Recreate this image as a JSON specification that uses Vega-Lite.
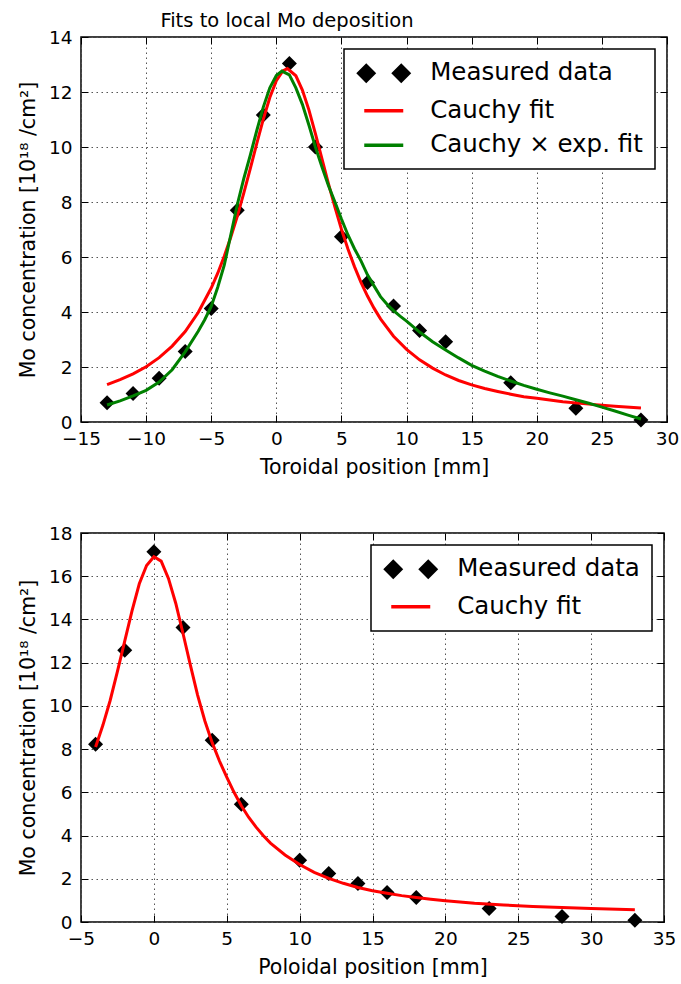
{
  "$schema": "https://vega.github.io/schema/vega-lite/v6.json",
  "background": "white",
  "padding": {"left": 17, "top": 9, "right": 5, "bottom": 5},
  "config": {
    "font": "DejaVu Sans",
    "view": {"stroke": "black", "strokeWidth": 1.5},
    "axis": {
      "labelFont": "DejaVu Sans", "labelFontSize": 18.5, "labelColor": "black",
      "titleFont": "DejaVu Sans", "titleFontSize": 20.5, "titleFontWeight": "normal", "titleColor": "black",
      "domain": false, "tickColor": "black", "tickSize": -7, "tickWidth": 1,
      "gridColor": "#555555", "gridDash": [1.5, 3.5], "gridWidth": 1,
      "labelFlush": false, "labelOverlap": false, "labelBound": false
    },
    "axisX": {"labelPadding": 14, "titlePadding": 10},
    "axisY": {"labelPadding": 16, "titlePadding": 10},
    "legend": {
      "title": null, "orient": "top-right", "offset": 12, "padding": 12,
      "symbolSize": 400, "labelOffset": 49.7, "rowPadding": 9.5,
      "labelFont": "DejaVu Sans", "labelFontSize": 24.5, "labelColor": "black", "labelLimit": 400,
      "strokeColor": "black", "fillColor": "white", "cornerRadius": 0
    }
  },
  "datasets": {
    "top_points": [
      {"series": "Measured data", "x": -13, "y": 0.70},
      {"series": "Measured data", "x": -11, "y": 1.04},
      {"series": "Measured data", "x": -9, "y": 1.59},
      {"series": "Measured data", "x": -7, "y": 2.56},
      {"series": "Measured data", "x": -5, "y": 4.13},
      {"series": "Measured data", "x": -3, "y": 7.70},
      {"series": "Measured data", "x": -1, "y": 11.16},
      {"series": "Measured data", "x": 1, "y": 13.04},
      {"series": "Measured data", "x": 3, "y": 10.0},
      {"series": "Measured data", "x": 5, "y": 6.74},
      {"series": "Measured data", "x": 7, "y": 5.07},
      {"series": "Measured data", "x": 9, "y": 4.22},
      {"series": "Measured data", "x": 11, "y": 3.33},
      {"series": "Measured data", "x": 13, "y": 2.92},
      {"series": "Measured data", "x": 18, "y": 1.43},
      {"series": "Measured data", "x": 23, "y": 0.50},
      {"series": "Measured data", "x": 28, "y": 0.07}
    ],
    "top_fits": [
      {"series": "Cauchy fit", "x": -13, "y": 1.36},
      {"series": "Cauchy fit", "x": -12, "y": 1.54},
      {"series": "Cauchy fit", "x": -11, "y": 1.75},
      {"series": "Cauchy fit", "x": -10, "y": 2.01},
      {"series": "Cauchy fit", "x": -9, "y": 2.34},
      {"series": "Cauchy fit", "x": -8, "y": 2.76},
      {"series": "Cauchy fit", "x": -7, "y": 3.29},
      {"series": "Cauchy fit", "x": -6, "y": 3.98},
      {"series": "Cauchy fit", "x": -5, "y": 4.87},
      {"series": "Cauchy fit", "x": -4.5, "y": 5.41},
      {"series": "Cauchy fit", "x": -4, "y": 6.03},
      {"series": "Cauchy fit", "x": -3.5, "y": 6.72},
      {"series": "Cauchy fit", "x": -3, "y": 7.48},
      {"series": "Cauchy fit", "x": -2.5, "y": 8.32},
      {"series": "Cauchy fit", "x": -2, "y": 9.21},
      {"series": "Cauchy fit", "x": -1.5, "y": 10.13},
      {"series": "Cauchy fit", "x": -1, "y": 11.01},
      {"series": "Cauchy fit", "x": -0.5, "y": 11.8},
      {"series": "Cauchy fit", "x": 0, "y": 12.41},
      {"series": "Cauchy fit", "x": 0.5, "y": 12.77},
      {"series": "Cauchy fit", "x": 0.85, "y": 12.85},
      {"series": "Cauchy fit", "x": 1.5, "y": 12.59},
      {"series": "Cauchy fit", "x": 2, "y": 12.07},
      {"series": "Cauchy fit", "x": 2.5, "y": 11.35},
      {"series": "Cauchy fit", "x": 3, "y": 10.49},
      {"series": "Cauchy fit", "x": 3.5, "y": 9.58},
      {"series": "Cauchy fit", "x": 4, "y": 8.67},
      {"series": "Cauchy fit", "x": 4.5, "y": 7.81},
      {"series": "Cauchy fit", "x": 5, "y": 7.01},
      {"series": "Cauchy fit", "x": 5.5, "y": 6.29},
      {"series": "Cauchy fit", "x": 6, "y": 5.65},
      {"series": "Cauchy fit", "x": 6.5, "y": 5.08},
      {"series": "Cauchy fit", "x": 7, "y": 4.58},
      {"series": "Cauchy fit", "x": 7.5, "y": 4.14},
      {"series": "Cauchy fit", "x": 8, "y": 3.75},
      {"series": "Cauchy fit", "x": 9, "y": 3.12},
      {"series": "Cauchy fit", "x": 10, "y": 2.64},
      {"series": "Cauchy fit", "x": 11, "y": 2.26},
      {"series": "Cauchy fit", "x": 12, "y": 1.96},
      {"series": "Cauchy fit", "x": 13, "y": 1.71},
      {"series": "Cauchy fit", "x": 14, "y": 1.51},
      {"series": "Cauchy fit", "x": 15, "y": 1.35},
      {"series": "Cauchy fit", "x": 16, "y": 1.22},
      {"series": "Cauchy fit", "x": 17, "y": 1.11},
      {"series": "Cauchy fit", "x": 18, "y": 1.01},
      {"series": "Cauchy fit", "x": 19, "y": 0.92},
      {"series": "Cauchy fit", "x": 20, "y": 0.86},
      {"series": "Cauchy fit", "x": 22, "y": 0.74},
      {"series": "Cauchy fit", "x": 24, "y": 0.65},
      {"series": "Cauchy fit", "x": 26, "y": 0.57},
      {"series": "Cauchy fit", "x": 28, "y": 0.51},
      {"series": "Cauchy × exp. fit", "x": -13, "y": 0.62},
      {"series": "Cauchy × exp. fit", "x": -12, "y": 0.77},
      {"series": "Cauchy × exp. fit", "x": -11, "y": 0.95},
      {"series": "Cauchy × exp. fit", "x": -10, "y": 1.15},
      {"series": "Cauchy × exp. fit", "x": -9, "y": 1.45},
      {"series": "Cauchy × exp. fit", "x": -8, "y": 1.9},
      {"series": "Cauchy × exp. fit", "x": -7, "y": 2.55},
      {"series": "Cauchy × exp. fit", "x": -6, "y": 3.3},
      {"series": "Cauchy × exp. fit", "x": -5.5, "y": 3.72},
      {"series": "Cauchy × exp. fit", "x": -5, "y": 4.2},
      {"series": "Cauchy × exp. fit", "x": -4.5, "y": 4.9},
      {"series": "Cauchy × exp. fit", "x": -4, "y": 5.7},
      {"series": "Cauchy × exp. fit", "x": -3.5, "y": 6.8},
      {"series": "Cauchy × exp. fit", "x": -3, "y": 7.9},
      {"series": "Cauchy × exp. fit", "x": -2.5, "y": 8.85},
      {"series": "Cauchy × exp. fit", "x": -2, "y": 9.7},
      {"series": "Cauchy × exp. fit", "x": -1.5, "y": 10.6},
      {"series": "Cauchy × exp. fit", "x": -1, "y": 11.45},
      {"series": "Cauchy × exp. fit", "x": -0.5, "y": 12.15},
      {"series": "Cauchy × exp. fit", "x": 0, "y": 12.6},
      {"series": "Cauchy × exp. fit", "x": 0.43, "y": 12.76},
      {"series": "Cauchy × exp. fit", "x": 1, "y": 12.62},
      {"series": "Cauchy × exp. fit", "x": 1.5, "y": 12.15},
      {"series": "Cauchy × exp. fit", "x": 2, "y": 11.55},
      {"series": "Cauchy × exp. fit", "x": 2.5, "y": 10.8},
      {"series": "Cauchy × exp. fit", "x": 3, "y": 10.0},
      {"series": "Cauchy × exp. fit", "x": 3.5, "y": 9.28},
      {"series": "Cauchy × exp. fit", "x": 4, "y": 8.6},
      {"series": "Cauchy × exp. fit", "x": 4.5, "y": 8.0},
      {"series": "Cauchy × exp. fit", "x": 5, "y": 7.38},
      {"series": "Cauchy × exp. fit", "x": 5.5, "y": 6.8},
      {"series": "Cauchy × exp. fit", "x": 6, "y": 6.3},
      {"series": "Cauchy × exp. fit", "x": 6.5, "y": 5.86},
      {"series": "Cauchy × exp. fit", "x": 7, "y": 5.35},
      {"series": "Cauchy × exp. fit", "x": 7.5, "y": 4.95},
      {"series": "Cauchy × exp. fit", "x": 8, "y": 4.56},
      {"series": "Cauchy × exp. fit", "x": 8.5, "y": 4.28},
      {"series": "Cauchy × exp. fit", "x": 9, "y": 4.05},
      {"series": "Cauchy × exp. fit", "x": 9.5, "y": 3.85},
      {"series": "Cauchy × exp. fit", "x": 10, "y": 3.67},
      {"series": "Cauchy × exp. fit", "x": 11, "y": 3.27},
      {"series": "Cauchy × exp. fit", "x": 12, "y": 2.92},
      {"series": "Cauchy × exp. fit", "x": 13, "y": 2.62},
      {"series": "Cauchy × exp. fit", "x": 14, "y": 2.33},
      {"series": "Cauchy × exp. fit", "x": 15, "y": 2.06},
      {"series": "Cauchy × exp. fit", "x": 16, "y": 1.85},
      {"series": "Cauchy × exp. fit", "x": 17, "y": 1.66},
      {"series": "Cauchy × exp. fit", "x": 18, "y": 1.49},
      {"series": "Cauchy × exp. fit", "x": 19, "y": 1.33},
      {"series": "Cauchy × exp. fit", "x": 20, "y": 1.19},
      {"series": "Cauchy × exp. fit", "x": 21, "y": 1.06},
      {"series": "Cauchy × exp. fit", "x": 22, "y": 0.94},
      {"series": "Cauchy × exp. fit", "x": 23, "y": 0.81},
      {"series": "Cauchy × exp. fit", "x": 24, "y": 0.68},
      {"series": "Cauchy × exp. fit", "x": 25, "y": 0.54},
      {"series": "Cauchy × exp. fit", "x": 26, "y": 0.40},
      {"series": "Cauchy × exp. fit", "x": 27, "y": 0.25},
      {"series": "Cauchy × exp. fit", "x": 28, "y": 0.11}
    ],
    "bottom_points": [
      {"series": "Measured data", "x": -4, "y": 8.23},
      {"series": "Measured data", "x": -2, "y": 12.58},
      {"series": "Measured data", "x": 0, "y": 17.13},
      {"series": "Measured data", "x": 2, "y": 13.63},
      {"series": "Measured data", "x": 4, "y": 8.41},
      {"series": "Measured data", "x": 6, "y": 5.45},
      {"series": "Measured data", "x": 10, "y": 2.86},
      {"series": "Measured data", "x": 12, "y": 2.24},
      {"series": "Measured data", "x": 14, "y": 1.78},
      {"series": "Measured data", "x": 16, "y": 1.36},
      {"series": "Measured data", "x": 18, "y": 1.13},
      {"series": "Measured data", "x": 23, "y": 0.62},
      {"series": "Measured data", "x": 28, "y": 0.26},
      {"series": "Measured data", "x": 33, "y": 0.08}
    ],
    "bottom_fit": [
      {"series": "Cauchy fit", "x": -4, "y": 8.1},
      {"series": "Cauchy fit", "x": -3.5, "y": 9.1},
      {"series": "Cauchy fit", "x": -3, "y": 10.25},
      {"series": "Cauchy fit", "x": -2.5, "y": 11.6},
      {"series": "Cauchy fit", "x": -2, "y": 13.0},
      {"series": "Cauchy fit", "x": -1.5, "y": 14.4},
      {"series": "Cauchy fit", "x": -1, "y": 15.65},
      {"series": "Cauchy fit", "x": -0.5, "y": 16.5},
      {"series": "Cauchy fit", "x": 0, "y": 16.9},
      {"series": "Cauchy fit", "x": 0.5, "y": 16.7},
      {"series": "Cauchy fit", "x": 1, "y": 15.9},
      {"series": "Cauchy fit", "x": 1.5, "y": 14.75},
      {"series": "Cauchy fit", "x": 2, "y": 13.35},
      {"series": "Cauchy fit", "x": 2.5, "y": 11.9},
      {"series": "Cauchy fit", "x": 3, "y": 10.5},
      {"series": "Cauchy fit", "x": 3.5, "y": 9.3},
      {"series": "Cauchy fit", "x": 4, "y": 8.3},
      {"series": "Cauchy fit", "x": 4.5, "y": 7.45},
      {"series": "Cauchy fit", "x": 5, "y": 6.7},
      {"series": "Cauchy fit", "x": 5.5, "y": 6.0},
      {"series": "Cauchy fit", "x": 6, "y": 5.38},
      {"series": "Cauchy fit", "x": 6.5, "y": 4.85},
      {"series": "Cauchy fit", "x": 7, "y": 4.4},
      {"series": "Cauchy fit", "x": 7.5, "y": 4.0},
      {"series": "Cauchy fit", "x": 8, "y": 3.65},
      {"series": "Cauchy fit", "x": 9, "y": 3.1},
      {"series": "Cauchy fit", "x": 10, "y": 2.66},
      {"series": "Cauchy fit", "x": 11, "y": 2.3},
      {"series": "Cauchy fit", "x": 12, "y": 2.02},
      {"series": "Cauchy fit", "x": 13, "y": 1.79},
      {"series": "Cauchy fit", "x": 14, "y": 1.6},
      {"series": "Cauchy fit", "x": 15, "y": 1.45},
      {"series": "Cauchy fit", "x": 16, "y": 1.33},
      {"series": "Cauchy fit", "x": 17, "y": 1.22},
      {"series": "Cauchy fit", "x": 18, "y": 1.13},
      {"series": "Cauchy fit", "x": 19, "y": 1.05},
      {"series": "Cauchy fit", "x": 20, "y": 0.98},
      {"series": "Cauchy fit", "x": 22, "y": 0.87},
      {"series": "Cauchy fit", "x": 24, "y": 0.79},
      {"series": "Cauchy fit", "x": 26, "y": 0.72},
      {"series": "Cauchy fit", "x": 28, "y": 0.67},
      {"series": "Cauchy fit", "x": 30, "y": 0.62},
      {"series": "Cauchy fit", "x": 33, "y": 0.57}
    ]
  },
  "spacing": 111,
  "bounds": "flush",
  "resolve": {"scale": {"color": "independent"}, "legend": {"color": "independent"}},
  "vconcat": [
    {
      "width": 586,
      "height": 385,
      "title": {"text": "Fits to local Mo deposition", "font": "DejaVu Sans", "fontSize": 19.5, "fontWeight": "normal", "color": "black", "dx": -87, "offset": -3},
      "resolve": {"axis": {"x": "independent", "y": "independent"}},
      "layer": [
        {
          "data": {"name": "top_points"},
          "mark": {"type": "point", "shape": "diamond", "filled": true, "size": 225, "opacity": 1},
          "encoding": {
            "x": {"field": "x", "type": "quantitative", "scale": {"domain": [-15, 30], "nice": false, "zero": false},
                  "axis": {"orient": "bottom", "values": [-15, -10, -5, 0, 5, 10, 15, 20, 25, 30], "grid": true, "title": "Toroidal position [mm]"}},
            "y": {"field": "y", "type": "quantitative", "scale": {"domain": [0, 14], "nice": false},
                  "axis": {"orient": "left", "values": [0, 2, 4, 6, 8, 10, 12, 14], "grid": true, "title": "Mo concentration [10¹⁸ /cm²]"}},
            "color": {"field": "series", "type": "nominal",
                      "scale": {"domain": ["Measured data", "Cauchy fit", "Cauchy × exp. fit"], "range": ["black", "#ff0000", "#008000"]},
                      "legend": {
                        "encoding": {
                          "symbols": {
                            "shape": {"value": {"expr": "datum.value === 'Measured data' ? 'M-0.95,0L-0.2,-0.75L0.55,0L-0.2,0.75ZM2.55,0L3.3,-0.75L4.05,0L3.3,0.75Z' : 'M-0.4,0L3.5,0'"}},
                            "fill": {"value": {"expr": "datum.value === 'Measured data' ? 'black' : 'transparent'"}},
                            "stroke": {"value": {"expr": "datum.value === 'Measured data' ? 'transparent' : (datum.value === 'Cauchy fit' ? '#ff0000' : '#008000')"}},
                            "strokeWidth": {"value": 3.5},
                            "opacity": {"value": 1}
                          },
                          "legend": {"strokeWidth": {"value": 1.5}}
                        }
                      }}
          }
        },
        {
          "data": {"name": "top_fits"},
          "transform": [{"filter": "datum.series === 'Cauchy fit'"}],
          "mark": {"type": "line", "strokeWidth": 3},
          "encoding": {
            "x": {"field": "x", "type": "quantitative", "scale": {"domain": [-15, 30], "nice": false, "zero": false},
                  "axis": {"orient": "top", "values": [-15, -10, -5, 0, 5, 10, 15, 20, 25, 30], "labels": false, "grid": false, "title": null}},
            "y": {"field": "y", "type": "quantitative", "scale": {"domain": [0, 14], "nice": false},
                  "axis": {"orient": "right", "values": [0, 2, 4, 6, 8, 10, 12, 14], "labels": false, "grid": false, "title": null}},
            "color": {"field": "series", "type": "nominal", "scale": {"domain": ["Measured data", "Cauchy fit", "Cauchy × exp. fit"], "range": ["black", "#ff0000", "#008000"]}},
            "order": {"field": "x", "type": "quantitative"}
          }
        },
        {
          "data": {"name": "top_fits"},
          "transform": [{"filter": "datum.series === 'Cauchy × exp. fit'"}],
          "mark": {"type": "line", "strokeWidth": 3},
          "encoding": {
            "x": {"field": "x", "type": "quantitative", "scale": {"domain": [-15, 30], "nice": false, "zero": false}, "axis": null},
            "y": {"field": "y", "type": "quantitative", "scale": {"domain": [0, 14], "nice": false}, "axis": null},
            "color": {"field": "series", "type": "nominal", "scale": {"domain": ["Measured data", "Cauchy fit", "Cauchy × exp. fit"], "range": ["black", "#ff0000", "#008000"]}},
            "order": {"field": "x", "type": "quantitative"}
          }
        }
      ]
    },
    {
      "width": 583,
      "height": 389,
      "resolve": {"axis": {"x": "independent", "y": "independent"}},
      "layer": [
        {
          "data": {"name": "bottom_points"},
          "mark": {"type": "point", "shape": "diamond", "filled": true, "size": 225, "opacity": 1},
          "encoding": {
            "x": {"field": "x", "type": "quantitative", "scale": {"domain": [-5, 35], "nice": false, "zero": false},
                  "axis": {"orient": "bottom", "values": [-5, 0, 5, 10, 15, 20, 25, 30, 35], "grid": true, "title": "Poloidal position [mm]"}},
            "y": {"field": "y", "type": "quantitative", "scale": {"domain": [0, 18], "nice": false},
                  "axis": {"orient": "left", "values": [0, 2, 4, 6, 8, 10, 12, 14, 16, 18], "grid": true, "title": "Mo concentration [10¹⁸ /cm²]"}},
            "color": {"field": "series", "type": "nominal",
                      "scale": {"domain": ["Measured data", "Cauchy fit"], "range": ["black", "#ff0000"]},
                      "legend": {
                        "encoding": {
                          "symbols": {
                            "shape": {"value": {"expr": "datum.value === 'Measured data' ? 'M-0.95,0L-0.2,-0.75L0.55,0L-0.2,0.75ZM2.55,0L3.3,-0.75L4.05,0L3.3,0.75Z' : 'M-0.4,0L3.5,0'"}},
                            "fill": {"value": {"expr": "datum.value === 'Measured data' ? 'black' : 'transparent'"}},
                            "stroke": {"value": {"expr": "datum.value === 'Measured data' ? 'transparent' : '#ff0000'"}},
                            "strokeWidth": {"value": 3.5},
                            "opacity": {"value": 1}
                          },
                          "legend": {"strokeWidth": {"value": 1.5}}
                        }
                      }}
          }
        },
        {
          "data": {"name": "bottom_fit"},
          "mark": {"type": "line", "strokeWidth": 3},
          "encoding": {
            "x": {"field": "x", "type": "quantitative", "scale": {"domain": [-5, 35], "nice": false, "zero": false},
                  "axis": {"orient": "top", "values": [-5, 0, 5, 10, 15, 20, 25, 30, 35], "labels": false, "grid": false, "title": null}},
            "y": {"field": "y", "type": "quantitative", "scale": {"domain": [0, 18], "nice": false},
                  "axis": {"orient": "right", "values": [0, 2, 4, 6, 8, 10, 12, 14, 16, 18], "labels": false, "grid": false, "title": null}},
            "color": {"field": "series", "type": "nominal", "scale": {"domain": ["Measured data", "Cauchy fit"], "range": ["black", "#ff0000"]}},
            "order": {"field": "x", "type": "quantitative"}
          }
        }
      ]
    }
  ]
}
